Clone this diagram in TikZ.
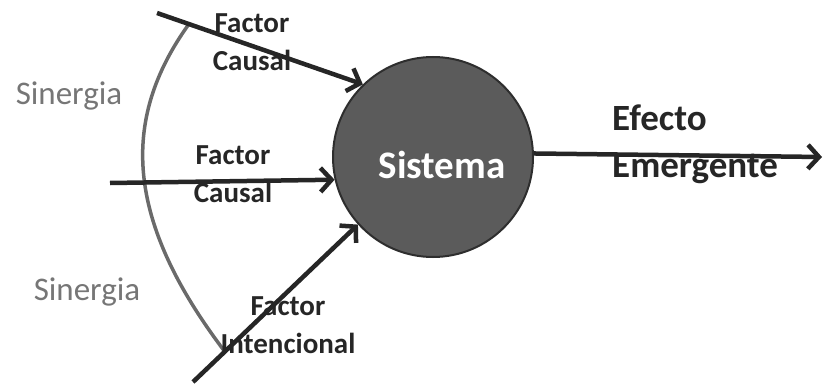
\documentclass[tikz,border=0pt]{standalone}
\usepackage{fontspec}
\setmainfont{Carlito}
\usepackage{tikz}
\usetikzlibrary{arrows.meta}
\usetikzlibrary{calc}

\definecolor{factorcolor}{HTML}{262626}
\definecolor{systemfill}{HTML}{5B5B5B}
\definecolor{systemborder}{HTML}{2E2E2E}
\definecolor{synergycolor}{HTML}{6A6A6A}
\definecolor{synergytext}{HTML}{767676}

\tikzset{
    factor/.style = {draw = factorcolor, line width = 4.5pt, -{Straight Barb[length = 11pt, width = 24pt]}},
    synergy/.style = {draw = synergycolor, line width = 3.5pt},
    factortext/.style = {font = \bfseries\fontsize{29}{38}\selectfont, align = center, inner sep = 0, text = factorcolor},
    effecttext/.style = {font = \bfseries\fontsize{37}{47}\selectfont, align = left, inner sep = 0, text = factorcolor},
    synergylabel/.style = {font = \fontsize{33}{38}\selectfont, inner sep = 0, text = synergytext}
}

\begin{document}
\begin{tikzpicture}[x = 1pt, y = -1pt]
                \useasboundingbox (0,0) rectangle (824,385);

                % Draw the system:
                \node [circle, draw = systemborder, fill = systemfill, line width = 2pt, minimum size = 200pt, inner sep = 0] (Sistema) at (433,157) {};
                \node [font = \bfseries\fontsize{39}{46}\selectfont, text = white, inner sep = 0] (SistemaText) at (442,165) {Sistema};

                % Free ends of the factors:
                \coordinate (CausalA) at (157,13);
                \coordinate (CausalB) at (110,183);
                \coordinate (Intencional) at (193,382);
                \coordinate (Efecto) at (822,157);

                % Draw the synergy curve:
                \draw [synergy] ($(CausalA)!.155!(Sistema.134)$) .. controls (120,120) and (125,220) .. ($(Intencional)!.193!(Sistema.222)$);

                % Draw the factors:
                \draw [factor] (CausalA) -- (Sistema.134);
                \draw [factor] (CausalB) -- (Sistema.193);
                \draw [factor] (Intencional) -- (Sistema.222);
                \draw [factor] (Sistema.2) -- (Efecto);

                % Draw the labels:
                \node [factortext] (TextA) at (252,42) {Factor\\Causal};
                \node [factortext] (TextB) at (233,174) {Factor\\Causal};
                \node [factortext] (TextC) at (288,325) {Factor\\Intencional};
                \node [effecttext, anchor = west] (TextD) at (612,144) {Efecto\\Emergente};
                \node [synergylabel] (SinergiaA) at (69,96) {Sinergia};
                \node [synergylabel] (SinergiaB) at (87,292) {Sinergia};
            \end{tikzpicture}
\end{document}
